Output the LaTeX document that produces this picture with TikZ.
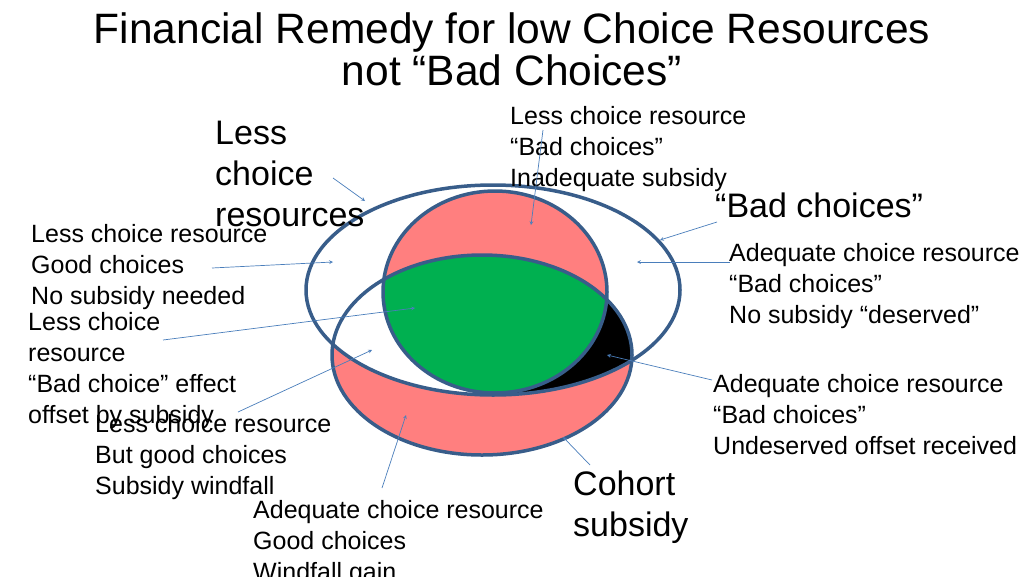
\documentclass[tikz,border=0pt]{standalone}
\usepackage{fontspec}
\setmainfont{Liberation Sans}
\begin{document}
\begin{tikzpicture}[x=1pt,y=-1pt]
  % some colors
  \definecolor{rim}{HTML}{385D8A}
  \definecolor{salmon}{HTML}{FF7F7F}
  \definecolor{leaf}{HTML}{00B050}
  \definecolor{pointer}{HTML}{4A7EBB}
  % some styles (anchored at the baseline of the last line)
  \tikzset{
    txt/.style={anchor=base west,inner sep=0,align=left,
      font=\fontsize{25}{31}\selectfont},
    big/.style={txt,font=\fontsize{34}{41}\selectfont},
    ring/.style={draw=rim,line width=3.5pt},
    point/.style={-stealth,pointer,line width=.7pt},
  }
  \useasboundingbox (0,0) rectangle (1024,576);
  % regions
  \def\wide{(493,290) ellipse [x radius=187,y radius=105]}
  \def\disc{(495,292) ellipse [x radius=112,y radius=101]}
  \def\lower{(482,355) ellipse [x radius=150,y radius=100]}
  \fill[salmon] \lower;
  \begin{scope}
    \clip \lower;
    \fill[white] \wide;
    \clip (485,0) rectangle (1024,576);
    \fill[black] \wide;
  \end{scope}
  \fill[salmon] \disc;
  \begin{scope}
    \clip \disc;
    \fill[leaf] \lower;
  \end{scope}
  \draw[ring] \wide;
  \draw[ring] \lower;
  \draw[ring] \disc;
  % title
  \node[anchor=base,inner sep=0,align=center,font=\fontsize{42.5}{42}\selectfont]
    (title) at (512,85) {Financial Remedy for low Choice Resources\\not “Bad Choices”};
  % labels
  \node[big] (lcr) at (215,226) {Less\\choice\\resources};
  \node[txt] (top) at (510,186) {Less choice resource\\“Bad choices”\\Inadequate subsidy};
  \node[big] (bc) at (715,217) {“Bad choices”};
  \node[txt] (left1) at (31,304) {Less choice resource\\Good choices\\No subsidy needed};
  \node[txt] (right1) at (729,323) {Adequate choice resource\\“Bad choices”\\No subsidy “deserved”};
  \node[txt] (left2) at (28,423) {Less choice\\resource\\“Bad choice” effect\\offset by subsidy};
  \node[txt] (right2) at (713,454) {Adequate choice resource\\“Bad choices”\\Undeserved offset received};
  \node[txt] (left3) at (95,494) {Less choice resource\\But good choices\\Subsidy windfall};
  \node[txt] (bottom) at (253,580) {Adequate choice resource\\Good choices\\Windfall gain};
  \node[big] (cohort) at (573,536) {Cohort\\subsidy};
  % pointers
  \coordinate (p1) at (365,201);
  \coordinate (p2) at (531,225);
  \coordinate (p3) at (333,262);
  \coordinate (p4) at (660,240);
  \coordinate (p5) at (637,262);
  \coordinate (p6) at (415,308);
  \coordinate (p7) at (372,350);
  \coordinate (p8) at (607,355);
  \coordinate (p9) at (406,415);
  \coordinate (p10) at (563,437);
  \draw[point] (333,178) -- (p1);
  \draw[point] (543,130) -- (p2);
  \draw[point] (212,268) -- (p3);
  \draw[point] (717,222) -- (p4);
  \draw[point] (730,262) -- (p5);
  \draw[point] (163,340) -- (p6);
  \draw[point] (238,412) -- (p7);
  \draw[point] (712,380) -- (p8);
  \draw[point] (382,488) -- (p9);
  \draw[point] (590,465) -- (p10);
\end{tikzpicture}
\end{document}
